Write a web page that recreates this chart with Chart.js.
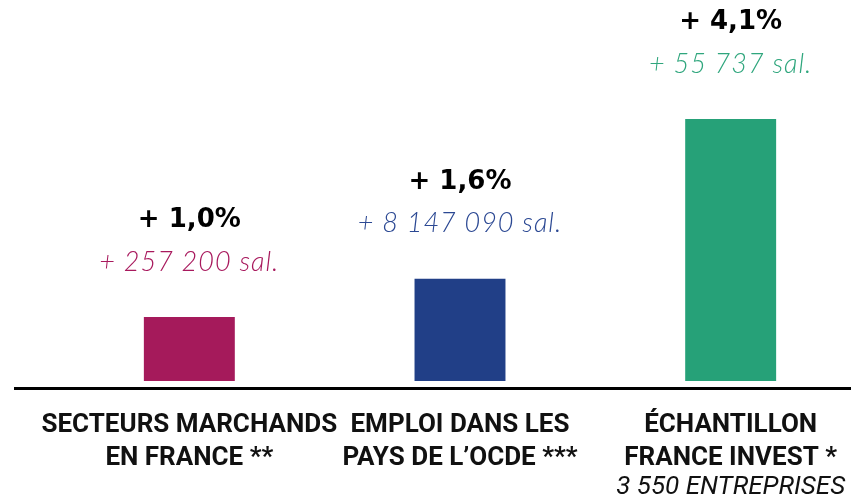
<!DOCTYPE html>
<html>
<head>
<meta charset="utf-8">
<script src="https://cdn.jsdelivr.net/npm/chart.js@4.4.1/dist/chart.umd.min.js"></script>
<style>
  html, body { margin: 0; padding: 0; background: #fff; overflow: hidden; }
  #wrap { width: 880px; height: 499px; }
</style>
</head>
<body>
<div id="wrap"><canvas id="chart"></canvas></div>
<script>
// données
const categories = [
  ["SECTEURS MARCHANDS", "EN FRANCE **"],
  ["EMPLOI DANS LES", "PAYS DE L’OCDE ***"],
  ["ÉCHANTILLON", "FRANCE INVEST *"],
];
const notes = ["", "", "3 550 ENTREPRISES"];
const growth = [1.0, 1.6, 4.1];
const growthLabels = ["+ 1,0%", "+ 1,6%", "+ 4,1%"];
const jobsLabels = ["+ 257 200 sal.", "+ 8 147 090 sal.", "+ 55 737 sal."];
const barColors = ["#A51A5B", "#213F87", "#26A178"];
const textColors = ["#A8195D", "#2B4893", "#2FA67D"];

// étiquettes au-dessus des barres + catégories + ligne de base
const labelsPlugin = {
  id: "labels",
  afterDatasetsDraw(chart) {
    const ctx = chart.ctx;
    const area = chart.chartArea;
    const meta = chart.getDatasetMeta(0);
    ctx.save();

    // ligne de base
    ctx.strokeStyle = "#000";
    ctx.lineWidth = 3;
    ctx.beginPath();
    ctx.moveTo(14, area.bottom - 1.5);
    ctx.lineTo(chart.width, area.bottom - 1.5);
    ctx.stroke();

    ctx.textAlign = "center";
    ctx.textBaseline = "middle";
    meta.data.forEach((bar, i) => {
      ctx.letterSpacing = "0px";
      ctx.fillStyle = "#000";
      ctx.font = "bold 26px 'DejaVu Sans', sans-serif";
      ctx.fillText(growthLabels[i], bar.x, bar.y - 97);
      ctx.fillStyle = textColors[i];
      ctx.letterSpacing = "1px";
      ctx.font = "italic 300 27px Lato, 'Noto Sans', sans-serif";
      ctx.fillText(jobsLabels[i], bar.x, bar.y - 55);
    });

    ctx.letterSpacing = "0px";
    const xs = chart.scales.x;
    categories.forEach((lines, i) => {
      const x = xs.getPixelForValue(i);
      ctx.fillStyle = "#111";
      ctx.font = "bold 26px Roboto, sans-serif";
      lines.forEach((t, j) => ctx.fillText(t, x, 425 + j * 33));
      if (notes[i]) {
        ctx.font = "italic 26px Roboto, sans-serif";
        ctx.fillText(notes[i], x, 487);
      }
    });
    ctx.restore();
  },
};

new Chart(document.getElementById("chart"), {
  type: "bar",
  data: {
    labels: categories,
    datasets: [
      {
        data: growth,
        backgroundColor: barColors,
        borderWidth: 0,
        categoryPercentage: 1,
        barPercentage: 0.336,
      },
    ],
  },
  options: {
    responsive: true,
    maintainAspectRatio: false,
    animation: false,
    layout: { padding: { left: 54, right: 14, top: 0, bottom: 109 } },
    plugins: { legend: { display: false }, tooltip: { enabled: false } },
    scales: {
      x: { display: false, grid: { display: false } },
      y: { display: false, min: -0.14, max: 5.96, grid: { display: false } },
    },
  },
  plugins: [labelsPlugin],
});
</script>
</body>
</html>
